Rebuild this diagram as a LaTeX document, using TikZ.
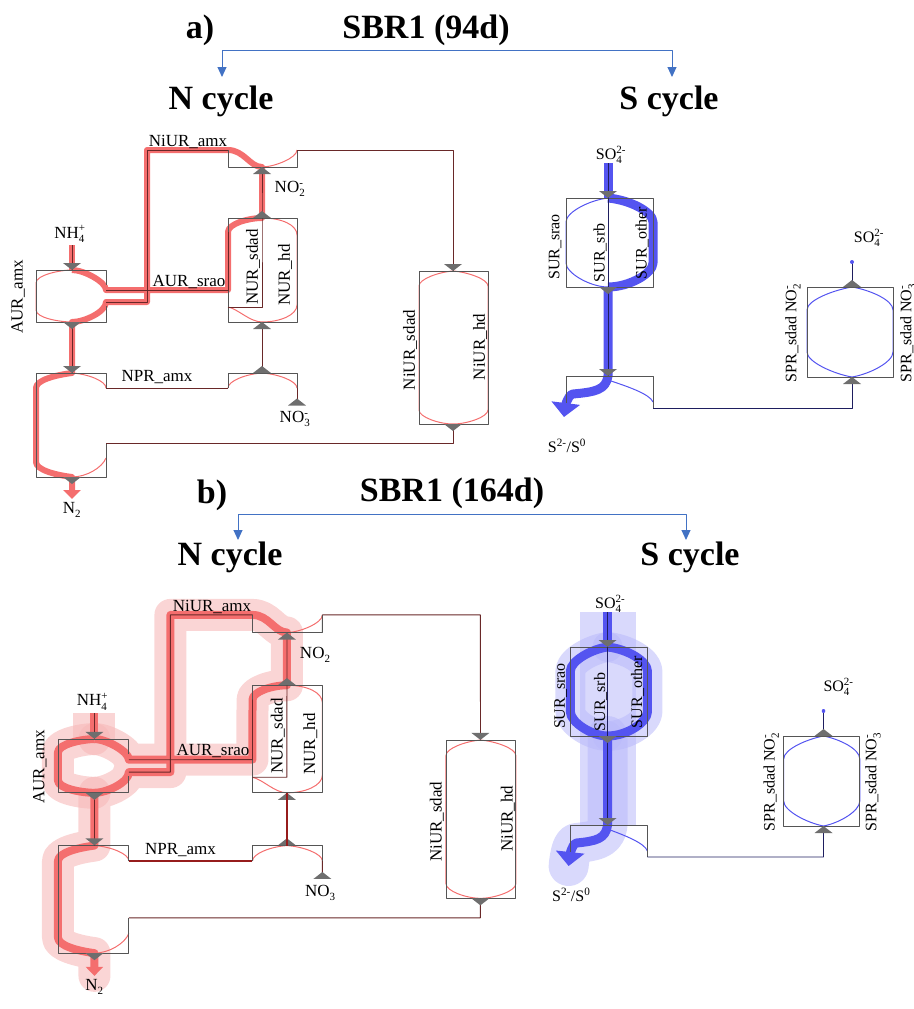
\documentclass[tikz,border=0pt]{standalone}
\usepackage{fontspec}
\setmainfont{Liberation Serif}
\usetikzlibrary{arrows.meta}

\definecolor{nred}{RGB}{244,110,110}
\definecolor{nline}{RGB}{105,40,40}
\definecolor{nhalo}{RGB}{247,185,185}
\definecolor{sblue}{RGB}{84,84,240}
\definecolor{sline}{RGB}{30,30,95}
\definecolor{shalo}{RGB}{185,185,250}
\definecolor{boxgray}{RGB}{85,85,85}
\definecolor{brblue}{RGB}{66,114,196}

\newcommand{\ionlbl}[3]{#1$_{\mbox{\fontsize{11}{11}\selectfont #2}}^{\mbox{\fontsize{11}{11}\selectfont #3}}$}

% N cycle: опорные точки (координаты панели a)
\newcommand{\Ncoords}{%
  \coordinate (nh4) at (72,245);
  \coordinate (aurT) at (72,270);
  \coordinate (aurB) at (72,322);
  \coordinate (aurR1) at (106,290);
  \coordinate (aurR2) at (106,302);
  \coordinate (amxL) at (228,150);
  \coordinate (amxB) at (262,167);
  \coordinate (amxR) at (297,150);
  \coordinate (nurT) at (262,218);
  \coordinate (nurL) at (228,232);
  \coordinate (nurB) at (262,322);
  \coordinate (nprT) at (262,373);
  \coordinate (no3) at (297,405);
  \coordinate (n2T) at (72,373);
  \coordinate (n2B) at (72,477);
  \coordinate (n2out) at (72,499);
  \coordinate (niT) at (453,271);
  \coordinate (niB) at (453,424);
}
\newcommand{\Nloop}{(aurT) .. controls +(12,0) and +(0,-8) .. (aurR1) -- (228,290) -- (nurL) .. controls +(0,-8) and +(-14,0) .. (nurT) -- (amxB) .. controls +(-12,0) and +(16,0) .. (amxL) -- (147,150) -- (147,302) -- (aurR2) .. controls +(0,10) and +(12,0) .. (aurB) -- (n2T) .. controls +(-16,2) and +(0,-8) .. (36,388) -- (36,462) .. controls +(0,8) and +(-16,-2) .. (n2B) -- (n2out)}
\newcommand{\Nlens}{(aurT) .. controls +(-12,0) and +(0,-8) .. (36,283) -- (36,310) .. controls +(0,8) and +(-12,0) .. (aurB)}

\newcommand{\Nskel}[1]{%
  \draw[nthin] \Nlens;
  \draw[nthin] (aurT) .. controls +(12,0) and +(0,-8) .. (aurR1);
  \draw[nthin] (aurR2) .. controls +(0,10) and +(12,0) .. (aurB);
  \draw[nthin] (amxB) .. controls +(12,0) and +(0,8) .. (amxR);
  \draw[nthin] (nurT) .. controls +(20,0) and +(0,-10) .. (297,235) -- (297,305) .. controls +(0,10) and +(18,0) .. (nurB);
  \draw[nthin] (228,307) .. controls +(10,2) and +(-12,0) .. (nurB);
  \draw[nthin] (228,388) .. controls +(0,-7) and +(-16,1) .. (nprT) .. controls +(16,1) and +(0,-7) .. (297,388);
  \draw[nthin] (n2T) .. controls +(16,1) and +(0,-7) .. (106,388);
  \draw[nthin] (106,458) .. controls +(-4,10) and +(14,0) .. (n2B);
  \draw[nthin] (niT) .. controls +(-14,1) and +(0,-7) .. (419,286) -- (419,410) .. controls +(0,7) and +(-14,0) .. (niB) .. controls +(14,0) and +(0,7) .. (488,410) -- (488,286) .. controls +(0,-7) and +(14,1) .. (niT);
  \draw[box] (106,285) -- (106,270) -- (36,270) -- (36,322) -- (106,322) -- (106,306); % AUR_amx
  \draw[box] (amxL) -- (228,167) -- (297,167) -- (amxR); % NiUR_amx
  \draw[box] (228,218) rectangle (297,322); % NUR
  \draw[box] (228,388) -- (228,373) -- (297,373) -- (297,390); % NPR
  \draw[box] (106,388) -- (106,373) -- (36,373) -- (36,477) -- (106,477) -- (106,443); % N2
  \draw[box] (419,271) rectangle (488,424); % NiUR
  \draw[nchan] (nh4) -- (aurT);
  \draw[nchan] (aurR1) -- (228,290) -- (nurL);
  \draw[nchan] (aurR2) -- (147,302) -- (147,150) -- (amxL);
  \draw[nchan] (amxB) -- (nurT) -- (262,307) -- (228,307);
  \draw[nchan] (amxR) -- (453,150) -- (niT);
  \draw[nchan] (niB) -- (453,443) -- (106,443);
  \draw[nchan] (nurB) -- (nprT);
  \draw[nchan] (106,388) -- (228,388);
  \draw[nchan] (297,388) -- (no3);
  \draw[nchan] (aurB) -- (n2T);
  \foreach \p in {(72,266.5),(72,325.5),(72,369.5),(72,480.5),(453,267.5),(453,427.5)} \pic at \p {mdn};
  \foreach \p in {(262,170.5),(262,214.5),(262,325.5),(262,369.5),(297,402)} \pic at \p {mup};
  \node[lbl] (tNiamx) at (188,142) {NiUR\_amx};
  \node[lbl] (tSrao) at (189,282) {AUR\_srao};
  \node[lbl] (tNpr) at (157,377) {NPR\_amx};
  \node[lbl, rotate=90] (tAur) at (18,297) {AUR\_amx};
  \node[lbl, rotate=90] (tNsdad) at (253,267) {NUR\_sdad};
  \node[lbl, rotate=90] (tNhd) at (285,275) {NUR\_hd};
  \node[lbl, rotate=90] (tNisdad) at (410,350) {NiUR\_sdad};
  \node[lbl, rotate=90] (tNihd) at (480,347) {NiUR\_hd};
  \node[lbl] (tNh4) at (70,234) {\ionlbl{NH}{4}{+}};
  \node[lbl] (tNo2) at (290,189) {\ionlbl{NO}{2}{#1}};
  \node[lbl] (tNo3) at (295,419) {\ionlbl{NO}{3}{#1}};
  \node[lbl] (tN2) at (72,510) {\ionlbl{N}{2}{}};
}

% S cycle
\newcommand{\Scoords}{%
  \coordinate (so4) at (608,163);
  \coordinate (surT) at (608,198);
  \coordinate (surB) at (608,287);
  \coordinate (outT) at (608,376);
  \coordinate (sout) at (564,417);
  \coordinate (sprT) at (852,287);
  \coordinate (sprB) at (852,377);
  \coordinate (sprTop) at (852,262);
}
\newcommand{\Sleft}{(surT) .. controls +(-18,2) and +(0,-10) .. (566,222) -- (566,263) .. controls +(0,10) and +(-18,0) .. (surB)}
\newcommand{\Sright}{(surT) .. controls +(22,2) and +(0,-10) .. (653,222) -- (653,263) .. controls +(0,10) and +(22,0) .. (surB)}
\newcommand{\Sdown}{(surB) -- (outT) .. controls +(-2,14) and +(22,-2) .. (573,394) .. controls +(-6,1) and +(1,-8) .. (sout)}

\newcommand{\Sskel}{%
  \draw[sthin] \Sleft;
  \draw[sthin] \Sright;
  \draw[sthin] (611,381) .. controls +(15,5) and +(-3,-8) .. (653,402);
  \draw[sthin] (sprT) .. controls +(-18,3) and +(0,-10) .. (807,310) -- (807,352) .. controls +(0,10) and +(-18,-3) .. (sprB) .. controls +(18,-3) and +(0,10) .. (893,352) -- (893,310) .. controls +(0,-10) and +(18,3) .. (sprT);
  \draw[box] (566,198) rectangle (653,287); % SUR
  \draw[box] (566,403) -- (566,376) -- (653,376) -- (653,408);
  \draw[box] (807,287) rectangle (893,377); % SPR
  \draw[schan] (so4) -- (outT);
  \draw[schan] (653,408) -- (852,408) -- (sprB);
  \draw[schan] (sprT) -- (sprTop);
  \fill[sblue] (sprTop) circle (2);
  \foreach \p in {(608,194.5),(608,290.5),(608,372.5)} \pic at \p {mdn};
  \foreach \p in {(852,380.5),(852,283.5)} \pic at \p {mup};
  \node[slbl] (tSo4) at (611,155) {\ionlbl{SO}{4}{2-}};
  \node[slbl, rotate=90] (tSurao) at (555,247) {SUR\_srao};
  \node[slbl, rotate=90] (tSusrb) at (600,253) {SUR\_srb};
  \node[slbl, rotate=90] (tSuoth) at (642,243) {SUR\_other};
  \node[slbl] (tSout) at (567,446) {S\textsuperscript{2-}/S\textsuperscript{0}};
  \node[slbl] (tSo4b) at (869,238) {\ionlbl{SO}{4}{2-}};
  \node[slbl, rotate=90] (tSpr2) at (793,333) {SPR\_sdad \ionlbl{NO}{2}{-}};
  \node[slbl, rotate=90] (tSpr3) at (908,333) {SPR\_sdad \ionlbl{NO}{3}{-}};
}

\begin{document}
\begin{tikzpicture}[x=1pt, y=-1pt, line join=round] % y вниз, как в пикселях
\tikzstyle{box} = [draw=boxgray, line width=0.9pt] % рамка блока
\tikzstyle{nthin} = [draw=nred, line width=1pt] % тонкий поток N
\tikzstyle{nchan} = [draw=nline, line width=0.9pt] % осевая линия N
\tikzstyle{nflow} = [draw=nred, line width=6pt] % толстый поток N
\tikzstyle{nglow} = [draw=nhalo, line width=32pt, opacity=0.6, line cap=round]
\tikzstyle{ntip} = [-{Triangle[width=17pt,length=9pt]}]
\tikzstyle{sthin} = [draw=sblue, line width=1pt]
\tikzstyle{schan} = [draw=sline, line width=0.9pt]
\tikzstyle{sflow} = [draw=sblue, line width=9pt]
\tikzstyle{sglow} = [draw=shalo, line width=30pt, opacity=0.55, line cap=round]
\tikzstyle{stip} = [-{Triangle[width=28pt,length=14pt]}]
\tikzstyle{lbl} = [font=\fontsize{17}{17}\selectfont, inner sep=0pt] % подписи
\tikzstyle{slbl} = [font=\fontsize{16}{16}\selectfont, inner sep=0pt]
\tikzstyle{hd} = [font=\bfseries\fontsize{34}{34}\selectfont, inner sep=0pt] % заголовки
\tikzstyle{brk} = [draw=brblue, line width=1pt, {Triangle[width=9pt,length=10pt]}-{Triangle[width=9pt,length=10pt]}]
\tikzset{mdn/.pic={\fill[boxgray!85] (-9,-3.5) -- (9,-3.5) -- (0,3.5) -- cycle;},
         mup/.pic={\fill[boxgray!85] (-9,3.5) -- (9,3.5) -- (0,-3.5) -- cycle;}}
\useasboundingbox (0,0) rectangle (913,1009);

% a) SBR1 (94d)
\node[hd] (tA) at (200,30) {a)};
\node[hd] (sbrA) at (426,30) {SBR1 (94d)};
\node[hd] (ncA) at (221,101) {N cycle};
\node[hd] (scA) at (669,101) {S cycle};
\coordinate (tipA1) at (222,77);
\coordinate (tipA2) at (672,77);
\draw[brk] (tipA1) -- ++(0,-27) -| (tipA2);

\begin{scope}[name prefix=a-] % N cycle, 94d
  \Ncoords
  \draw[nflow] (nh4) -- (aurT);
  \draw[nflow, ntip] \Nloop;
  \Nskel{-}
\end{scope}

\begin{scope}[name prefix=sa-] % S cycle, 94d
  \Scoords
  \draw[sflow] (so4) -- (surT);
  \draw[sflow] \Sright;
  \draw[sflow, stip] \Sdown;
  \Sskel
\end{scope}

% b) SBR1 (164d)
\node[hd] (tB) at (212,495) {b)};
\node[hd] (sbrB) at (452,493) {SBR1 (164d)};
\node[hd] (ncB) at (230,557) {N cycle};
\node[hd] (scB) at (690,557) {S cycle};
\coordinate (tipB1) at (238,540);
\coordinate (tipB2) at (686,540);
\draw[brk] (tipB1) -- ++(0,-26) -| (tipB2);

\begin{scope}[shift={(21.5,459.8)}, xscale=1.013, yscale=1.034, name prefix=b-] % N cycle, 164d
  \Ncoords
  \draw[nglow, line cap=butt, line width=42pt] (nh4) -- (aurT);
  \draw[nglow] \Nloop;
  \draw[nglow] \Nlens;
  \draw[nflow, line width=8pt] (nh4) -- (aurT);
  \draw[nflow, line width=8pt] \Nlens;
  \draw[nflow, line width=8pt, ntip] \Nloop;
  \Nskel{}
  \draw[nline!70!red, line width=1.8pt] (nurB) -- (nprT);
  \draw[nline!70!red, line width=1.8pt] (106,388) -- (228,388);
\end{scope}

\begin{scope}[shift={(69.5,449)}, xscale=0.885, name prefix=sb-] % S cycle, 164d
  \Scoords
  \draw[sglow, line cap=butt, line width=56pt] (so4) -- (outT);
  \draw[sglow] \Sleft;
  \draw[sglow] \Sright;
  \draw[sglow, line width=40pt] \Sdown;
  \draw[sflow] (so4) -- (surT);
  \draw[sflow] \Sleft;
  \draw[sflow] \Sright;
  \draw[sflow, stip] \Sdown;
  \Sskel
\end{scope}
\end{tikzpicture}
\end{document}
